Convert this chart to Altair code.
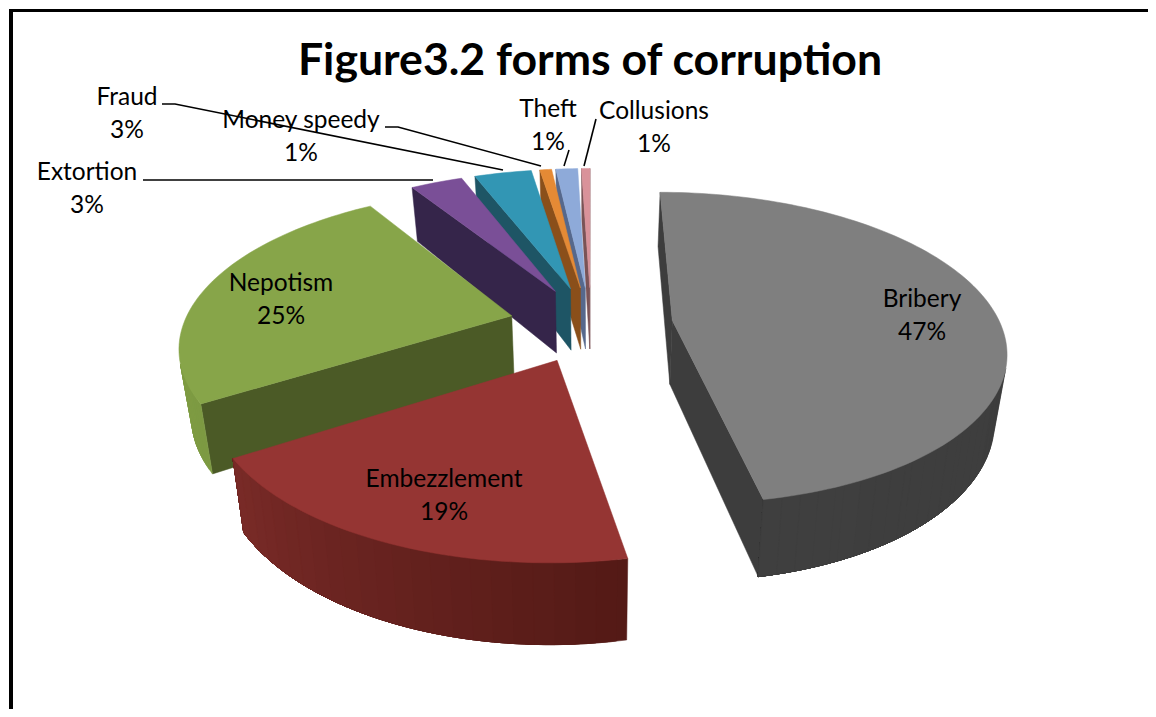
import math
import altair as alt

# ---- values
categories = ["Bribery", "Embezzlement", "Nepotism", "Extortion", "Fraud", "Money speedy", "Theft", "Collusions"]
shares = [47.0, 19.0, 25.0, 3.1, 3.4, 0.7, 1.3, 0.5]
share_labels = ["47%", "19%", "25%", "3%", "3%", "1%", "1%", "1%"]
top_colors = ["#7f7f7f", "#953533", "#87a549", "#7a4f97", "#3296b4", "#e58a35", "#8eaad9", "#d9929a"]
cut_colors = ["#3d3d3d", "#5a1c18", "#4b5a26", "#35254a", "#1e5565", "#8a4f1a", "#56688c", "#7a5356"]
rim_start = ["#3a3a3a", "#541a16", "#7d9a42", "#35254a", "#1e5565", "#8a4f1a", "#56688c", "#7a5356"]
rim_end = ["#3f3f3f", "#7a2b28", "#87a549", "#35254a", "#1e5565", "#8a4f1a", "#56688c", "#7a5356"]
draw_order = [7, 6, 5, 4, 3, 2, 0, 1]
title_text = "Figure3.2 forms of corruption"

# ---- page layout
W, H = 1140, 701
OFF = 8
TEXT_DY = 2
FONT = "Lato"
label_pos = [(922, 298), (444, 478), (281, 282), (87, 171), (127, 96), (301, 119), (548, 108), (654, 110)]
label_gap = 33
leaders = [
    [(143, 180), (433, 180)],
    [(162, 104), (175, 104), (503, 170)],
    [(385, 127), (398, 127), (541, 166)],
    [(569, 150), (564, 166)],
    [(596, 119), (584, 166)],
]

# ---- oblique view of the pie
XC, YC, AX, BY, PERSP, EXPLODE, DEPTH, SHRINK = 591, 324, 328, 152, 0.177, 0.25, 64, 0.97
BANDS = 24


def proj(X, Y, bottom=False):
    w = 1 + PERSP * Y
    sx = AX * X / w
    sy = YC - BY * Y / w
    if bottom:
        sx *= SHRINK
        sy += DEPTH / w
    return [XC + sx - OFF, sy - OFF]


def area(p):
    return sum(p[i][0] * p[(i + 1) % len(p)][1] - p[(i + 1) % len(p)][0] * p[i][1] for i in range(len(p)))


def mix(a, b, t):
    ca = [int(a[i:i + 2], 16) for i in (1, 3, 5)]
    cb = [int(b[i:i + 2], 16) for i in (1, 3, 5)]
    return "#%02x%02x%02x" % tuple(round(x + (y - x) * t) for x, y in zip(ca, cb))


def feature(points, color):
    return {"type": "Feature",
            "geometry": {"type": "Polygon", "coordinates": [points + [points[0]]]},
            "properties": {"c": color}}


total = sum(shares)
starts = []
acc = 0.0
for s in shares:
    starts.append(acc)
    acc += s

features = []
for i in draw_order:
    a0 = starts[i] / total * 2 * math.pi
    a1 = (starts[i] + shares[i]) / total * 2 * math.pi
    mid = (a0 + a1) / 2
    ox, oy = EXPLODE * math.sin(mid), EXPLODE * math.cos(mid)
    n = max(4, int((a1 - a0) * 40))
    rim = [(ox + math.sin(a0 + (a1 - a0) * k / n), oy + math.cos(a0 + (a1 - a0) * k / n)) for k in range(n + 1)]
    outline = [(ox, oy)] + rim
    top = [proj(*p) for p in outline]
    sign = area(top)

    # flat cut faces
    for a, b in ((outline[0], outline[1]), (outline[-1], outline[0])):
        quad = [proj(*a), proj(*b), proj(*b, bottom=True), proj(*a, bottom=True)]
        if area(quad) * sign < 0:
            features.append(feature(quad, cut_colors[i]))

    # curved outer face: visible run, drawn as overlapping bands so no seams show
    visible = []
    for k in range(n):
        a, b = rim[k], rim[k + 1]
        quad = [proj(*a), proj(*b), proj(*b, bottom=True), proj(*a, bottom=True)]
        if area(quad) * sign < 0:
            visible.append(k)
    if visible:
        first, last = visible[0], visible[-1] + 1
        span = last - first
        bands = max(1, min(BANDS, span)) if rim_start[i] != rim_end[i] else 1
        for j in range(bands):
            s0 = first + span * j // bands
            run = rim[s0:last + 1]
            poly = [proj(*p) for p in run] + [proj(*p, bottom=True) for p in reversed(run)]
            features.append(feature(poly, mix(rim_start[i], rim_end[i], (s0 / max(1, n)))))
    features.append(feature(top, top_colors[i]))

pie = alt.Chart(alt.Data(values=features, format=alt.DataFormat(type="json"))).mark_geoshape(strokeWidth=0.5).encode(
    color=alt.Color("properties.c:N", scale=None),
    stroke=alt.Stroke("properties.c:N", scale=None),
).project(type="identity", scale=1, translate=[0, 0])

rows = []
for name, pct, (px, py) in zip(categories, share_labels, label_pos):
    rows.append({"x": px - OFF, "y": py - OFF + TEXT_DY, "t": name})
    rows.append({"x": px - OFF, "y": py - OFF + TEXT_DY + label_gap, "t": pct})

labels = alt.Chart(alt.Data(values=rows)).mark_text(font=FONT, fontSize=24.5, color="#000000", baseline="middle", align="center").encode(
    x=alt.X("x:Q", scale=None, axis=None),
    y=alt.Y("y:Q", scale=None, axis=None),
    text="t:N",
)

title = alt.Chart(alt.Data(values=[{"x": 590 - OFF, "y": 60 - OFF + TEXT_DY, "t": title_text}])).mark_text(
    font=FONT, fontSize=44.6, fontWeight="bold", color="#000000", baseline="middle", align="center").encode(
    x=alt.X("x:Q", scale=None, axis=None),
    y=alt.Y("y:Q", scale=None, axis=None),
    text="t:N",
)

line_rows = []
for j, pts in enumerate(leaders):
    for k, (px, py) in enumerate(pts):
        line_rows.append({"x": px - OFF, "y": py - OFF, "id": j, "k": k})

lines = alt.Chart(alt.Data(values=line_rows)).mark_line(color="#000000", strokeWidth=1.6).encode(
    x=alt.X("x:Q", scale=None, axis=None),
    y=alt.Y("y:Q", scale=None, axis=None),
    detail="id:N",
    order="k:Q",
)

top_border = alt.Chart(alt.Data(values=[{"a": 0}])).mark_rule(color="#000000", strokeWidth=3).encode(
    x=alt.value(1), x2=alt.value(W), y=alt.value(2.5))
left_border = alt.Chart(alt.Data(values=[{"a": 0}])).mark_rule(color="#000000", strokeWidth=4).encode(
    x=alt.value(3), y=alt.value(1), y2=alt.value(H))

chart = alt.layer(pie, lines, labels, title, top_border, left_border).properties(
    width=W, height=H, padding=0, autosize=alt.AutoSizeParams(type="none"), background="#ffffff"
).configure_view(stroke=None)

chart.save("out.html", embed_options={"renderer": "svg", "actions": False})
